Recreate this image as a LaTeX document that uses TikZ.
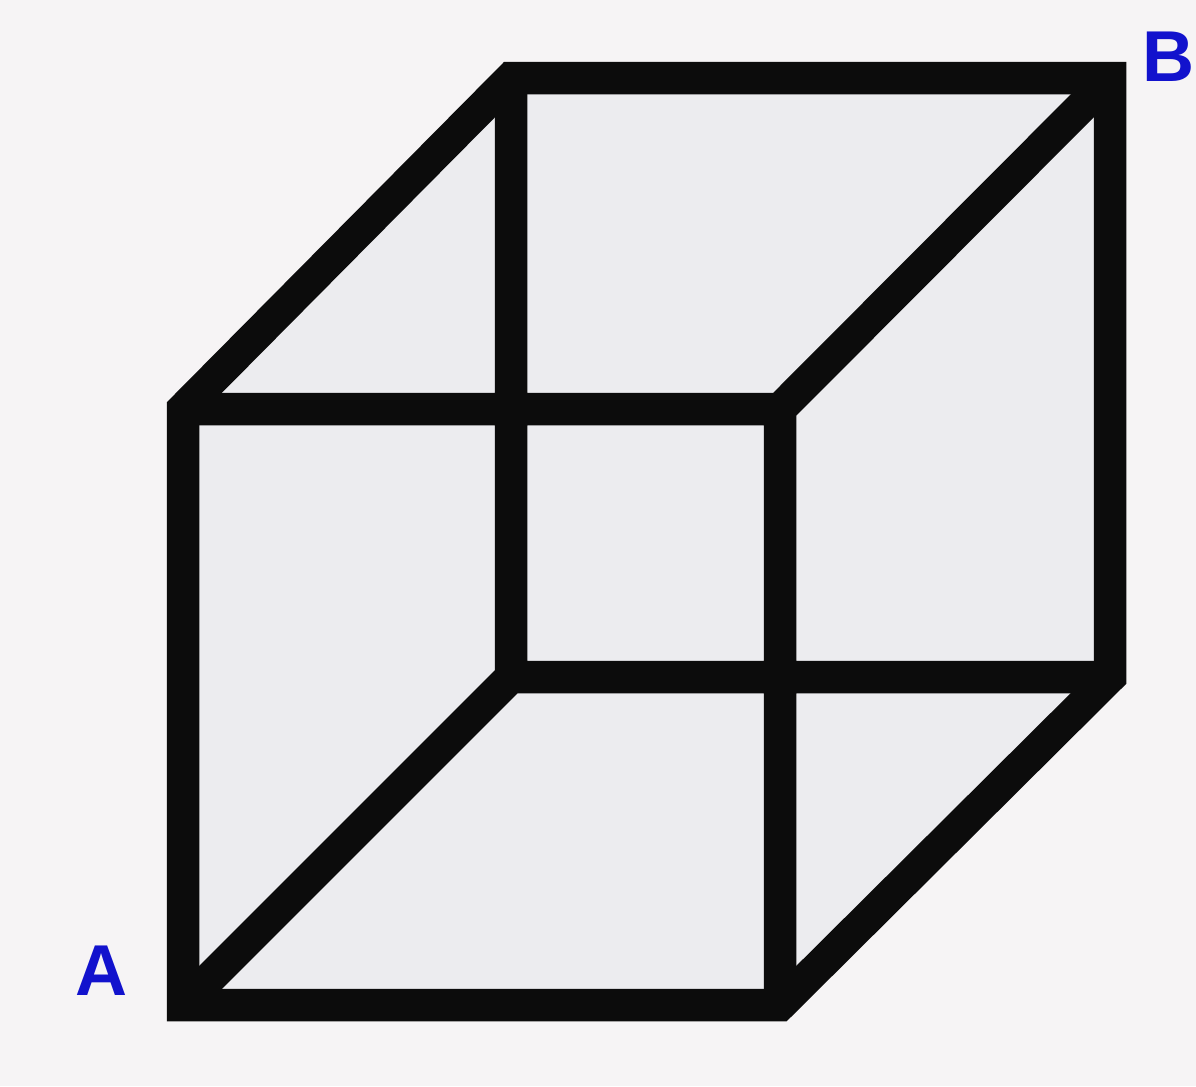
\documentclass[tikz,border=0pt]{standalone}
\usepackage{fontspec}
\setmainfont{Liberation Sans}
\usepackage{tikz}
\usetikzlibrary{calc}
\definecolor{paper}{RGB}{246,244,245}
\definecolor{face}{RGB}{236,236,239}
\definecolor{labelblue}{RGB}{18,18,205}

\begin{document}
\begin{tikzpicture}[x=0.2mm,y=-0.2mm,
    cubeedge/.style={line width=6.5mm,draw={rgb,255:red,12;green,12;blue,12},line join=miter},
    cornerlabel/.style={labelblue,font=\fontsize{41}{44}\bfseries\selectfont,inner sep=0pt}]
        \fill[paper] (0,0) rectangle (1196,1086);
        \useasboundingbox (0,0) rectangle (1196,1086);
        \coordinate (fbl) at (183,1005);
        \coordinate (ftl) at (183,409);
        \coordinate (ftr) at (780,409);
        \coordinate (fbr) at (780,1005);
        \coordinate (bbl) at (511,677);
        \coordinate (btl) at (511,78);
        \coordinate (btr) at (1110,78);
        \coordinate (bbr) at (1110,677);
        \fill[face] (fbl) -- (ftl) -- (btl) -- (btr) -- (bbr) -- (fbr) -- cycle;
        \draw[cubeedge]
        (ftl) -- (ftr) -- (fbr)
        (btl) -- (bbl) -- (bbr)
        (fbl) -- (bbl)
        (ftr) -- (btr);
        \draw[cubeedge] (fbl) -- (ftl) -- (btl) -- (btr) -- (bbr) -- (fbr) -- cycle;
        \node[cornerlabel] (labA) at (102,971) {A};
        \node[cornerlabel] (labB) at (1169,57) {B};
      \end{tikzpicture}
\end{document}
